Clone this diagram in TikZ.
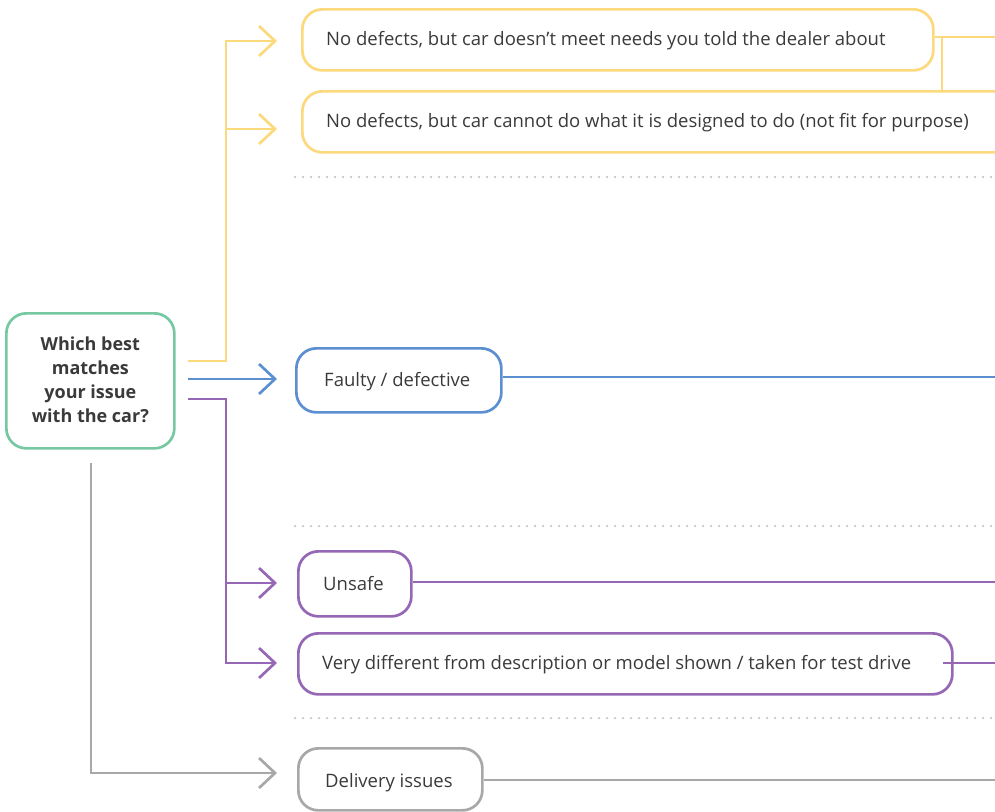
\documentclass[tikz,border=0pt]{standalone}
\usepackage{fontspec}
\setmainfont{Open Sans}
\usetikzlibrary{arrows.meta}
\definecolor{cyel}{HTML}{FDD97E}
\definecolor{cblue}{HTML}{5B8FD0}
\definecolor{cpurp}{HTML}{9567B4}
\definecolor{cgrey}{HTML}{A8A8A8}
\definecolor{cgreen}{HTML}{76C8A2}
\definecolor{ctext}{HTML}{3A3A3A}
\definecolor{cdot}{HTML}{C4C4C4}
\tikzset{
  x=1pt, y=-1pt,
  box/.style={draw, line width=2.7pt, rounded corners=20pt, anchor=north west,
    inner xsep=0pt, inner ysep=0pt},
  lbl/.style={anchor=base west, text=ctext, font=\fontsize{18.5}{20}\selectfont, inner sep=0pt},
  conn/.style={line width=2.7pt},
  arr/.style={conn, -{Straight Barb[length=16pt, width=30pt, line width=2.7pt]}},
  sep/.style={cdot, line width=2.5pt, line cap=round, dash pattern=on 0pt off 8pt},
}
\newcommand{\bx}[6]{% name, color, x1, y1, x2, y2
  \node[box, draw=#2, minimum width=#5pt-#3pt, minimum height=#6pt-#4pt] (#1) at (#3,#4) {};}
\begin{document}
\begin{tikzpicture}
\useasboundingbox (0,0) rectangle (995,811);
\begin{scope}
\clip (0,0) rectangle (995,811);
% question box
\node[draw=cgreen, line width=2.7pt, rounded corners=20pt, anchor=north west,
  minimum width=168pt, minimum height=135pt, inner sep=0pt] (q) at (5,312) {};
\node[align=center, text=ctext, font=\fontsize{18}{24}\selectfont\bfseries] (qt) at ([yshift=1pt]q.center)
  {Which best\\matches\\your issue\\with the car?};
% boxes
\bx{y1}{cyel}{301}{8}{932}{69}
\bx{y2}{cyel}{301}{90}{1030}{151}
\bx{fd}{cblue}{295}{347}{500}{411}
\bx{us}{cpurp}{297}{550}{410}{615}
\bx{vd}{cpurp}{297}{632}{951}{693}
\bx{dl}{cgrey}{297}{747}{481}{809}
\node[lbl] (t1) at (326,45.5) {No defects, but car doesn’t meet needs you told the dealer about};
\node[lbl] (t2) at (326,127.5) {No defects, but car cannot do what it is designed to do (not fit for purpose)};
\node[lbl] (t3) at (324,386.5) {Faulty / defective};
\node[lbl] (t4) at (323,590.5) {Unsafe};
\node[lbl] (t5) at (322,669.5) {Very different from description or model shown / taken for test drive};
\node[lbl] (t6) at (325,787.5) {Delivery issues};
% separators
\coordinate (s1a) at (295,177); \coordinate (s1b) at (995,177);
\coordinate (s2a) at (295,526); \coordinate (s2b) at (995,526);
\coordinate (s3a) at (295,718); \coordinate (s3b) at (995,718);
\draw[sep] (s1a) -- (s1b);
\draw[sep] (s2a) -- (s2b);
\draw[sep] (s3a) -- (s3b);
% yellow connectors
\coordinate (ys) at (188,361);
\coordinate (yj) at (226,361);
\coordinate (ya1) at (277,41);
\coordinate (ya2) at (277,129);
\draw[arr, cyel] (ys) -- (yj) |- (ya1);
\draw[arr, cyel] (226,129) -- (ya2);
\coordinate (yr) at (995,37);
\coordinate (yv) at (942,37);
\draw[conn, cyel] (y1.east |- yr) -- (yr);
\draw[conn, cyel] (yv) -- (yv |- y2.north);
% blue
\coordinate (bs) at (188,379);
\coordinate (ba) at (277,379);
\draw[arr, cblue] (bs) -- (ba);
\coordinate (br) at (995,377);
\draw[conn, cblue] (fd.east |- br) -- (br);
% purple
\coordinate (ps) at (188,399);
\coordinate (pj) at (226,399);
\coordinate (pa1) at (277,583);
\coordinate (pa2) at (277,663);
\draw[arr, cpurp] (ps) -- (pj) |- (pa2);
\draw[arr, cpurp] (226,583) -- (pa1);
\coordinate (pr1) at (995,582);
\coordinate (pr2) at (995,663);
\draw[conn, cpurp] (us.east |- pr1) -- (pr1);
\draw[conn, cpurp] (943,663) -- (pr2);
% grey
\coordinate (gs) at (91,463);
\coordinate (ga) at (277,773);
\draw[arr, cgrey] (gs) |- (ga);
\coordinate (gr) at (995,780);
\draw[conn, cgrey] (dl.east |- gr) -- (gr);
\end{scope}
\end{tikzpicture}
\end{document}
